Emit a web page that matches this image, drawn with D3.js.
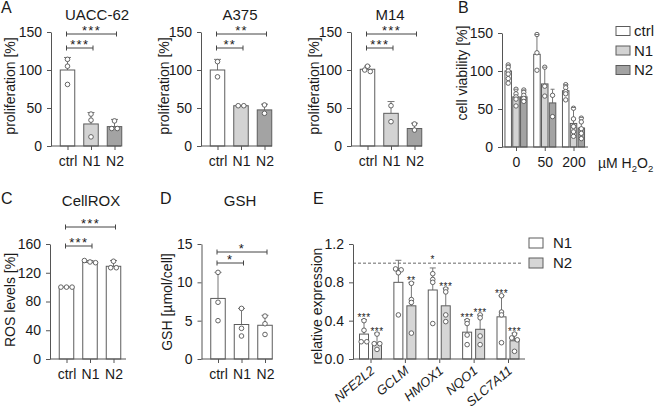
<!DOCTYPE html>
<html><head><meta charset="utf-8">
<script src="https://cdn.jsdelivr.net/npm/d3@7"></script>
<style>
body{margin:0;background:#fff;}
svg{font-family:"Liberation Sans",Arial,sans-serif;}
</style></head><body>
<svg id="c" width="657" height="412"></svg>
<script>
// ---------------- DATA ----------------
const conds = ["ctrl", "N1", "N2"];

// Panel A – proliferation [%]
const uaccMean = [100, 29, 25.5];
const uaccErr  = [116.5, 44, 35];
const uaccPts  = [[114, 105, 81], [42, 34, 12], [33, 23, 23]];
const uaccSig  = ["***", "***"];           // ctrl vs N1, ctrl vs N2

const a375Mean = [100, 53, 47.5];
const a375Err  = [114, 53, 55];
const a375Pts  = [[111, 91], [53, 53], [54, 43]];
const a375Sig  = ["**", "**"];

const m14Mean = [101, 43, 23];
const m14Err  = [105, 58.5, 30];
const m14Pts  = [[105, 100, 98], [53, 32], [29, 21]];
const m14Sig  = ["***", "***"];

const propTicks = [0, 50, 100, 150];

// Panel B – cell viability [%] per H2O2 dose (ctrl, N1, N2)
const doses = ["0", "50", "200"];
const viabMean = [[100, 66, 66], [122, 83, 58], [74, 31, 25]];
const viabErr  = [[108, 76, 75], [148, 105, 76], [82, 52, 39]];
const viabPts  = [
  [[108, 105, 100, 96, 90, 84], [76, 70, 66, 63, 54], [75, 72, 68, 64, 60]],
  [[148, 124, 101], [105, 80, 67], [68, 40]],
  [[82, 78, 73, 70, 62], [51, 37, 27, 20, 14], [38, 33, 24, 18, 11]]
];

// Panel C – ROS levels [%]
const rosMean = [100, 134.5, 129];
const rosErr  = [100, 137, 137];
const rosPts  = [[100, 100, 100], [137, 135, 134], [136, 127, 127]];
const rosSig  = ["***", "***"];
const rosTicks = [0, 40, 80, 120, 160];

// Panel D – GSH [µmol/cell]
const gshMean = [7.9, 4.5, 4.4];
const gshErr  = [11.3, 6.6, 5.7];
const gshPts  = [[11.3, 7.4, 5.0], [6.6, 4.0, 3.0], [5.6, 4.6, 3.2]];
const gshSig  = ["*", "*"];
const gshTicks = [0, 5, 10, 15];

// Panel E – relative expression
const genes = ["NFE2L2", "GCLM", "HMOX1", "NQO1", "SLC7A11"];
const exprSeries = ["N1", "N2"];
const exprN1Mean = [0.26, 0.80, 0.72, 0.28, 0.44];
const exprN1Err  = [0.41, 1.03, 0.95, 0.41, 0.66];
const exprN1Pts  = [[0.40, 0.30, 0.18, 0.18], [0.94, 0.93, 0.90, 0.46], [0.89, 0.83, 0.80, 0.37], [0.40, 0.37, 0.25, 0.15], [0.66, 0.49, 0.46, 0.17]];
const exprN1Sig  = ["***", "", "*", "***", "***"];
const exprN2Mean = [0.165, 0.555, 0.555, 0.31, 0.19];
const exprN2Err  = [0.27, 0.80, 0.74, 0.46, 0.27];
const exprN2Pts  = [[0.26, 0.16, 0.16, 0.10], [0.79, 0.62, 0.59, 0.27], [0.73, 0.70, 0.46, 0.39], [0.46, 0.43, 0.24, 0.15], [0.26, 0.22, 0.20, 0.08]];
const exprN2Sig  = ["***", "**", "***", "***", "***"];
const exprRef = 1.0;
const exprTicks = [0, 0.4, 0.8, 1.2];

// ---------------- STYLE ----------------
const svg = d3.select("#c");
const TXT = "#1a1a1a", AX = "#555", EDGE = "#5c5c5c", ERR = "#777", PT = "#555";
const fillA = {ctrl: "#ffffff", N1: "#d3d3d3", N2: "#a3a3a3"};
const fillE = {N1: "#ffffff", N2: "#d6d6d6"};
const FS = 14;

function styleAxis(a) {
  a.attr("font-family", null).attr("font-size", null);
  a.select(".domain").attr("stroke", AX);
  a.selectAll(".tick line").attr("stroke", AX);
  a.selectAll(".tick text").attr("fill", TXT).style("font-size", FS + "px");
}
function text(x, y, s, opt = {}) {
  const t = svg.append("text").attr("x", x).attr("y", y).text(s)
    .attr("fill", TXT).style("font-size", (opt.size || FS) + "px")
    .attr("text-anchor", opt.anchor || "middle");
  if (opt.rot) t.attr("transform", `rotate(${opt.rot},${x},${y})`);
  if (opt.style) t.style("font-style", opt.style);
  if (opt.ls) t.style("letter-spacing", opt.ls + "px");
  return t;
}
function swarm(vals, y, r) {
  const items = vals.map(v => ({v, py: y(v)})).sort((a, b) => a.py - b.py);
  const cl = [];
  items.forEach(it => {
    const last = cl[cl.length - 1];
    if (last && it.py - last[last.length - 1].py < r) last.push(it); else cl.push([it]);
  });
  cl.forEach(c => c.forEach((it, i) => it.dx = (i - (c.length - 1) / 2) * (2 * r + 1)));
  return items;
}
function drawBar(g, cx, w, y, mean, err, pts, fill, r, cap) {
  if (err > mean) {
    g.append("line").attr("x1", cx).attr("x2", cx).attr("y1", y(mean)).attr("y2", y(err)).attr("stroke", ERR).attr("stroke-width", 1);
    g.append("line").attr("x1", cx - cap).attr("x2", cx + cap).attr("y1", y(err)).attr("y2", y(err)).attr("stroke", ERR).attr("stroke-width", 1);
  }
  g.append("rect").attr("x", cx - w / 2).attr("y", y(mean)).attr("width", w).attr("height", y(0) - y(mean))
    .attr("fill", fill).attr("stroke", EDGE).attr("stroke-width", 1);
  swarm(pts, y, r).forEach(p => {
    g.append("circle").attr("cx", cx + p.dx).attr("cy", p.py).attr("r", r)
      .attr("fill", "#fff").attr("stroke", PT).attr("stroke-width", 0.9);
  });
}
function bracket(x1, x2, yy, lab, size) {
  const g = svg.append("g").attr("stroke", "#444").attr("stroke-width", 1);
  g.append("line").attr("x1", x1).attr("x2", x2).attr("y1", yy).attr("y2", yy);
  g.append("line").attr("x1", x1).attr("x2", x1).attr("y1", yy - 2.5).attr("y2", yy + 2.5);
  g.append("line").attr("x1", x2).attr("x2", x2).attr("y1", yy - 2.5).attr("y2", yy + 2.5);
  text((x1 + x2) / 2, yy + 1, lab, {size: size || 13, ls: 1.2});
}

// simple 3-bar panel
function simplePanel(o) {
  const y = d3.scaleLinear().domain([0, o.max]).range([o.yBot, o.yTop]);
  const x = d3.scalePoint().domain(conds).range([o.x0 + 16.5, o.x0 + 63.5]);
  const g = svg.append("g");
  conds.forEach((c, i) => drawBar(g, x(c), 14.5, y, o.mean[i], o.err[i], o.pts[i], o.fills[c], 2.3, 3.5));
  const ya = svg.append("g").attr("transform", `translate(${o.x0},0)`)
    .call(d3.axisLeft(y).tickValues(o.ticks).tickFormat(o.fmt || d3.format("d")).tickSize(4).tickSizeOuter(0).tickPadding(5));
  styleAxis(ya);
  svg.append("line").attr("x1", o.x0).attr("x2", o.x0 + o.xLen).attr("y1", o.yBot).attr("y2", o.yBot).attr("stroke", AX);
  const xa = svg.append("g").attr("transform", `translate(0,${o.yBot})`)
    .call(d3.axisBottom(x).tickSize(4).tickSizeOuter(0).tickPadding(6));
  styleAxis(xa); xa.select(".domain").remove();
  text(o.titleX, o.titleY, o.title, {size: 15});
  text(o.labX, o.labY, o.ylab, {rot: -90});
  bracket(x("ctrl") - 1, x("N1") + 2, o.b1, o.sig[0], o.sigSize);
  bracket(x("ctrl") - 1, x("N2") + 2, o.b2, o.sig[1], o.sigSize);
}

const fmtInt = d3.format("d");
simplePanel({x0: 51, yTop: 32, yBot: 146, max: 150, ticks: propTicks, mean: uaccMean, err: uaccErr, pts: uaccPts, fills: fillA,
  xLen: 70, title: "UACC-62", titleX: 97, titleY: 20, ylab: "proliferation [%]", labX: 15, labY: 86, b1: 48, b2: 34, sig: uaccSig});
simplePanel({x0: 201, yTop: 32, yBot: 146, max: 150, ticks: propTicks, mean: a375Mean, err: a375Err, pts: a375Pts, fills: fillA,
  xLen: 71, title: "A375", titleX: 240, titleY: 20, ylab: "proliferation [%]", labX: 169, labY: 86, b1: 48, b2: 34, sig: a375Sig});
simplePanel({x0: 351, yTop: 32, yBot: 146, max: 150, ticks: propTicks, mean: m14Mean, err: m14Err, pts: m14Pts, fills: fillA,
  xLen: 71, title: "M14", titleX: 390, titleY: 20, ylab: "proliferation [%]", labX: 319, labY: 86, b1: 48, b2: 34, sig: m14Sig});
simplePanel({x0: 50, yTop: 244, yBot: 359, max: 160, ticks: rosTicks, mean: rosMean, err: rosErr, pts: rosPts,
  fills: {ctrl: "#fff", N1: "#fff", N2: "#fff"}, xLen: 76, title: "CellROX", titleX: 91, titleY: 206,
  ylab: "ROS levels [%]", labX: 15, labY: 300, b1: 246, b2: 227, sig: rosSig});
simplePanel({x0: 201.5, yTop: 244, yBot: 359, max: 15, ticks: gshTicks, mean: gshMean, err: gshErr, pts: gshPts,
  fills: {ctrl: "#fff", N1: "#fff", N2: "#fff"}, xLen: 71, title: "GSH", titleX: 240, titleY: 206,
  ylab: "GSH [\u00b5mol/cell]", labX: 172, labY: 302, b1: 263, b2: 252, sig: gshSig});

// ---------- Panel B ----------
(function () {
  const x0 = 502, yTop = 33, yBot = 147;
  const y = d3.scaleLinear().domain([0, 150]).range([yBot, yTop]);
  const xg = d3.scalePoint().domain(doses).range([516, 573.5]);
  const xs = d3.scalePoint().domain(conds).range([-7.8, 7.8]);
  const g = svg.append("g");
  doses.forEach((d, i) => conds.forEach((c, j) =>
    drawBar(g, xg(d) + xs(c), 6.5, y, viabMean[i][j], viabErr[i][j], viabPts[i][j], fillA[c], 2.2, 0)));
  doses.forEach((d, i) => conds.forEach((c, j) => {
    g.append("line").attr("x1", xg(d) + xs(c) - 2).attr("x2", xg(d) + xs(c) + 2)
      .attr("y1", y(viabErr[i][j])).attr("y2", y(viabErr[i][j])).attr("stroke", ERR);
  }));
  const ya = svg.append("g").attr("transform", `translate(${x0},0)`)
    .call(d3.axisLeft(y).tickValues(propTicks).tickFormat(fmtInt).tickSize(4).tickSizeOuter(0).tickPadding(5));
  styleAxis(ya);
  svg.append("line").attr("x1", x0).attr("x2", 588).attr("y1", yBot).attr("y2", yBot).attr("stroke", AX);
  const xa = svg.append("g").attr("transform", `translate(0,${yBot})`)
    .call(d3.axisBottom(xg).tickSize(4).tickSizeOuter(0).tickPadding(6));
  styleAxis(xa); xa.select(".domain").remove();
  text(467, 73, "cell viability [%]", {rot: -90});
  const t = text(598, 168, "", {anchor: "start", size: 14});
  t.append("tspan").text("\u00b5M H");
  t.append("tspan").text("2").style("font-size", "9.5px").attr("dy", 4);
  t.append("tspan").text("O").attr("dy", -4);
  t.append("tspan").text("2").style("font-size", "9.5px").attr("dy", 4);
  conds.forEach((c, i) => {
    const ly = 31 + i * 19.5;
    svg.append("rect").attr("x", 616).attr("y", ly - 4.5).attr("width", 14).attr("height", 9)
      .attr("fill", fillA[c]).attr("stroke", EDGE);
    text(634, ly + 5, c, {anchor: "start", size: 15});
  });
})();

// ---------- Panel E ----------
(function () {
  const x0 = 353, yTop = 244, yBot = 359;
  const y = d3.scaleLinear().domain([0, 1.2]).range([yBot, yTop]);
  const xg = d3.scalePoint().domain(genes).range([370.5, 508]);
  const xs = d3.scalePoint().domain(exprSeries).range([-6.5, 6.5]);
  const g = svg.append("g");
  const M = {N1: exprN1Mean, N2: exprN2Mean}, E = {N1: exprN1Err, N2: exprN2Err},
        P = {N1: exprN1Pts, N2: exprN2Pts}, S = {N1: exprN1Sig, N2: exprN2Sig};
  svg.append("line").attr("x1", x0).attr("x2", 522).attr("y1", y(exprRef)).attr("y2", y(exprRef))
    .attr("stroke", "#666").attr("stroke-dasharray", "3,2");
  genes.forEach((gn, i) => exprSeries.forEach(s =>
    drawBar(g, xg(gn) + xs(s), 9, y, M[s][i], E[s][i], P[s][i], fillE[s], 2.3, 3)));
  genes.forEach((gn, i) => exprSeries.forEach(s => {
    const lab = S[s][i]; if (!lab) return;
    let yy = y(E[s][i]) + 1.5;
    if (E[s][i] > 0.9) yy = Math.min(yy, y(exprRef) - 0.5);
    text(xg(gn) + xs(s), yy, lab, {size: 10, ls: 0.5});
  }));
  const ya = svg.append("g").attr("transform", `translate(${x0},0)`)
    .call(d3.axisLeft(y).tickValues(exprTicks).tickFormat(d3.format(".1f")).tickSize(4).tickSizeOuter(0).tickPadding(5));
  styleAxis(ya);
  svg.append("line").attr("x1", x0).attr("x2", 525).attr("y1", yBot).attr("y2", yBot).attr("stroke", AX);
  const xa = svg.append("g").attr("transform", `translate(0,${yBot})`)
    .call(d3.axisBottom(xg).tickSize(4).tickSizeOuter(0).tickFormat(() => ""));
  styleAxis(xa); xa.select(".domain").remove();
  genes.forEach(gn => text(xg(gn) + 5, yBot + 13, gn, {anchor: "end", rot: -40, style: "italic", size: 13}));
  text(322, 306, "relative expression", {rot: -90});
  exprSeries.forEach((s, i) => {
    const ly = 243 + i * 20;
    svg.append("rect").attr("x", 529).attr("y", ly - 5).attr("width", 14).attr("height", 10)
      .attr("fill", fillE[s]).attr("stroke", EDGE);
    text(553, ly + 5, s, {anchor: "start", size: 15});
  });
})();

// panel letters
[["A", 1, 13], ["B", 458, 13], ["C", 1, 204], ["D", 160, 204], ["E", 313, 204]]
  .forEach(([l, x, y]) => text(x, y, l, {anchor: "start", size: 16}));
</script>
</body></html>
